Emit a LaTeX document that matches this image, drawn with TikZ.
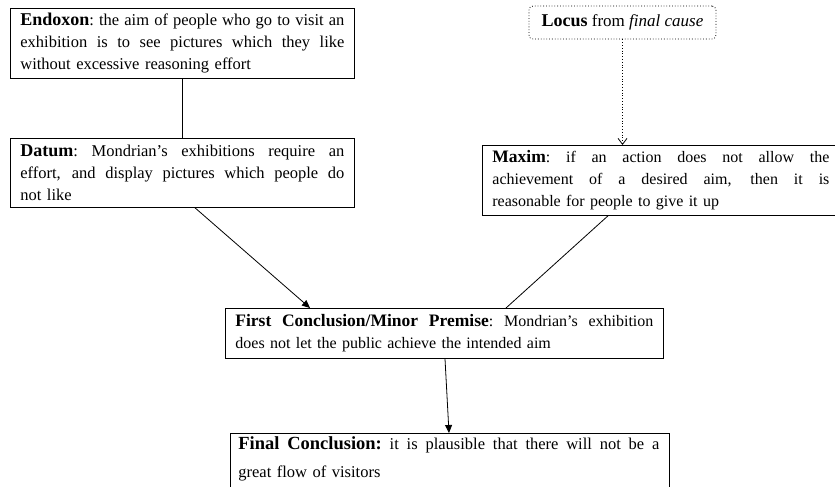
\documentclass[tikz,border=0pt]{standalone}
\usepackage{fontspec}
\setmainfont{Liberation Serif}
\usetikzlibrary{arrows.meta,calc}
\newcommand\jline[2]{{\spaceskip=0.25em plus 1fil\xspaceskip=0.25em plus 1fil\makebox[#1][s]{#2}}\\}
\newcommand\lbl[2]{{\fontsize{#1}{22}\selectfont\textbf{#2}}}
\begin{document}
\begin{tikzpicture}[x=1pt,y=-1pt,
 box/.style={draw,line width=0.8pt,anchor=north west,inner ysep=0pt,align=left,font=\fontsize{16}{22}\selectfont},
 link/.style={line width=0.8pt},
 arr/.style={line width=0.8pt,-{Triangle[length=8pt,width=7pt]}}]
\useasboundingbox (0,0) rectangle (835,487);
\node[box,inner xsep=10pt,text width=324pt,minimum height=70pt,font=\fontsize{16.5}{22}\selectfont] (endoxon) at (10,8)
 {\jline{324pt}{\lbl{18}{Endoxon}: the aim of people who go to visit an}\jline{324pt}{exhibition is to see pictures which they like}without excessive reasoning effort};
\node[box,inner xsep=10pt,text width=324pt,minimum height=69pt,font=\fontsize{16.5}{22}\selectfont] (datum) at (10,138)
 {\jline{324pt}{\lbl{18}{Datum}: Mondrian’s exhibitions require an}\jline{324pt}{effort, and display pictures which people do}not like};
\node[box,inner xsep=10pt,text width=337pt,minimum height=70pt] (maxim) at (482,145)
 {\jline{337pt}{\lbl{17.5}{Maxim}: if an action does not allow the}\jline{337pt}{achievement of a desired aim, then it is}reasonable for people to give it up};
\node[box,inner xsep=10pt,text width=418pt,minimum height=50pt] (first) at (225,308)
 {\jline{418pt}{\lbl{17.5}{First Conclusion/Minor Premise}: Mondrian’s exhibition}does not let the public achieve the intended aim};
\node[box,inner xsep=8pt,inner ysep=3pt,text width=423pt,font=\fontsize{16.5}{28}\selectfont] (final) at (230,433)
 {\jline{421pt}{\lbl{18.5}{Final Conclusion:} it is plausible that there will not be a}great flow of visitors\rule[-20pt]{0pt}{0pt}};
\node[draw,dotted,rounded corners=4pt,line width=0.8pt,minimum width=187pt,minimum height=33pt,inner sep=0pt,font=\fontsize{17}{20}\selectfont] (locus) at (622.5,22.5)
 {\lbl{18}{Locus} from \textit{final cause}};
\draw[link] (endoxon.south) -- (datum.north);
\draw[arr] ([xshift=185pt]datum.south west) -- ([xshift=85pt]first.north west);
\draw[link] ([xshift=126pt]maxim.south west) -- ([xshift=281pt]first.north west);
\draw[dotted,line width=0.8pt,-{Straight Barb[length=6pt,width=9pt]}] (locus.south) -- (locus.south |- maxim.north);
\draw[arr] ([xshift=220pt]first.south west) -- ([xshift=219pt]final.north west);
\end{tikzpicture}
\end{document}
